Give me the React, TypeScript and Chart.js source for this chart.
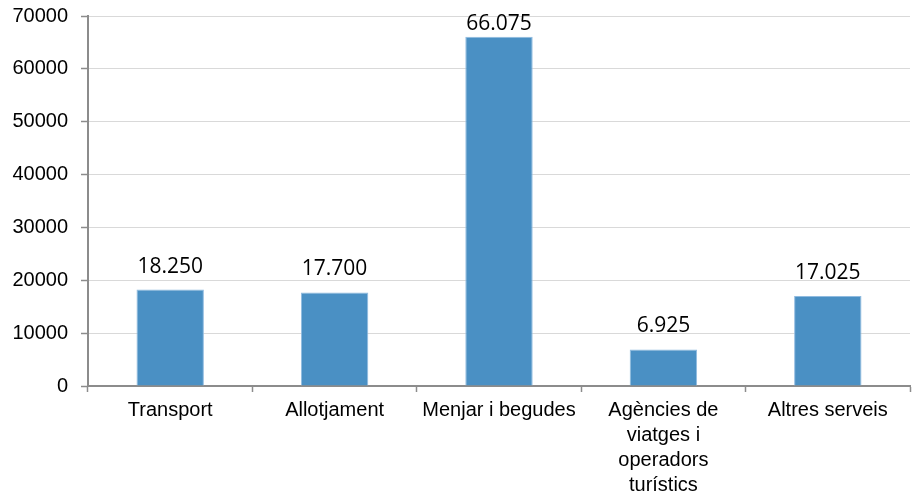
import React, { useEffect, useRef } from "react";
import { Chart, registerables } from "chart.js";

Chart.register(...registerables);

const categories: (string | string[])[] = [
  "Transport",
  "Allotjament",
  "Menjar i begudes",
  ["Agències de", "viatges i", "operadors", "turístics"],
  "Altres serveis",
];
const values: number[] = [18250, 17700, 66075, 6925, 17025];
const valueLabels: string[] = ["18.250", "17.700", "66.075", "6.925", "17.025"];
const yMax = 70000;
const yStep = 10000;

const AXIS = "#8c8c8c";
const GRID = "#d9d9d9";

const labelPlugin = {
  id: "valueLabels",
  afterDatasetsDraw(chart: any) {
    const ctx = chart.ctx;
    const meta = chart.getDatasetMeta(0);
    ctx.save();
    ctx.font = '21px "Open Sans"';
    ctx.fillStyle = "#000";
    ctx.textAlign = "center";
    ctx.textBaseline = "alphabetic";
    meta.data.forEach((bar: any, i: number) => {
      const y = Math.max(bar.y - 17, chart.chartArea.top + 14);
      ctx.fillText(valueLabels[i], bar.x, y);
    });
    ctx.restore();
  },
};

export default function App() {
  const ref = useRef<HTMLCanvasElement | null>(null);
  useEffect(() => {
    if (!ref.current) return;
    const chart = new Chart(ref.current, {
      type: "bar",
      data: {
        labels: categories,
        datasets: [
          {
            data: values,
            backgroundColor: "#4a90c4",
            borderColor: "#8fbbe0",
            borderWidth: 1,
            categoryPercentage: 1,
            barPercentage: 0.41,
          },
        ],
      },
      options: {
        animation: false,
        responsive: true,
        maintainAspectRatio: false,
        layout: { padding: { top: 16, right: 9, left: 0, bottom: 0 } },
        plugins: {
          legend: { display: false },
          tooltip: { enabled: false },
        },
        scales: {
          x: {
            grid: {
              display: true,
              drawOnChartArea: false,
              drawTicks: true,
              tickLength: 6,
              tickColor: AXIS,
              tickWidth: 1.5,
              offset: true,
            },
            border: { display: true, color: AXIS, width: 2 },
            ticks: {
              color: "#000",
              font: { family: '"Liberation Sans", Arial', size: 20, lineHeight: 1.25 },
              padding: 6,
              maxRotation: 0,
              autoSkip: false,
            },
            afterFit(scale: any) {
              scale.height = 109;
              scale.paddingLeft = 0;
              scale.paddingRight = 0;
            },
          },
          y: {
            min: 0,
            max: yMax,
            ticks: {
              stepSize: yStep,
              color: "#000",
              font: { family: '"Liberation Sans", Arial', size: 20 },
              padding: 13,
              callback: (v: any) => String(v),
            },
            grid: {
              color: GRID,
              lineWidth: 1,
              drawTicks: true,
              tickLength: 7,
              tickColor: AXIS,
              tickWidth: 1.5,
            },
            border: { display: true, color: AXIS, width: 2 },
            afterFit(scale: any) {
              scale.width = 88;
              scale.paddingTop = 0;
              scale.paddingBottom = 0;
            },
          },
        },
      },
      plugins: [labelPlugin],
    });
    return () => chart.destroy();
  }, []);
  return (
    <div style={{ position: "absolute", left: 0, top: 0, width: 919, height: 495, background: "#fff" }}>
      <canvas ref={ref} />
    </div>
  );
}
